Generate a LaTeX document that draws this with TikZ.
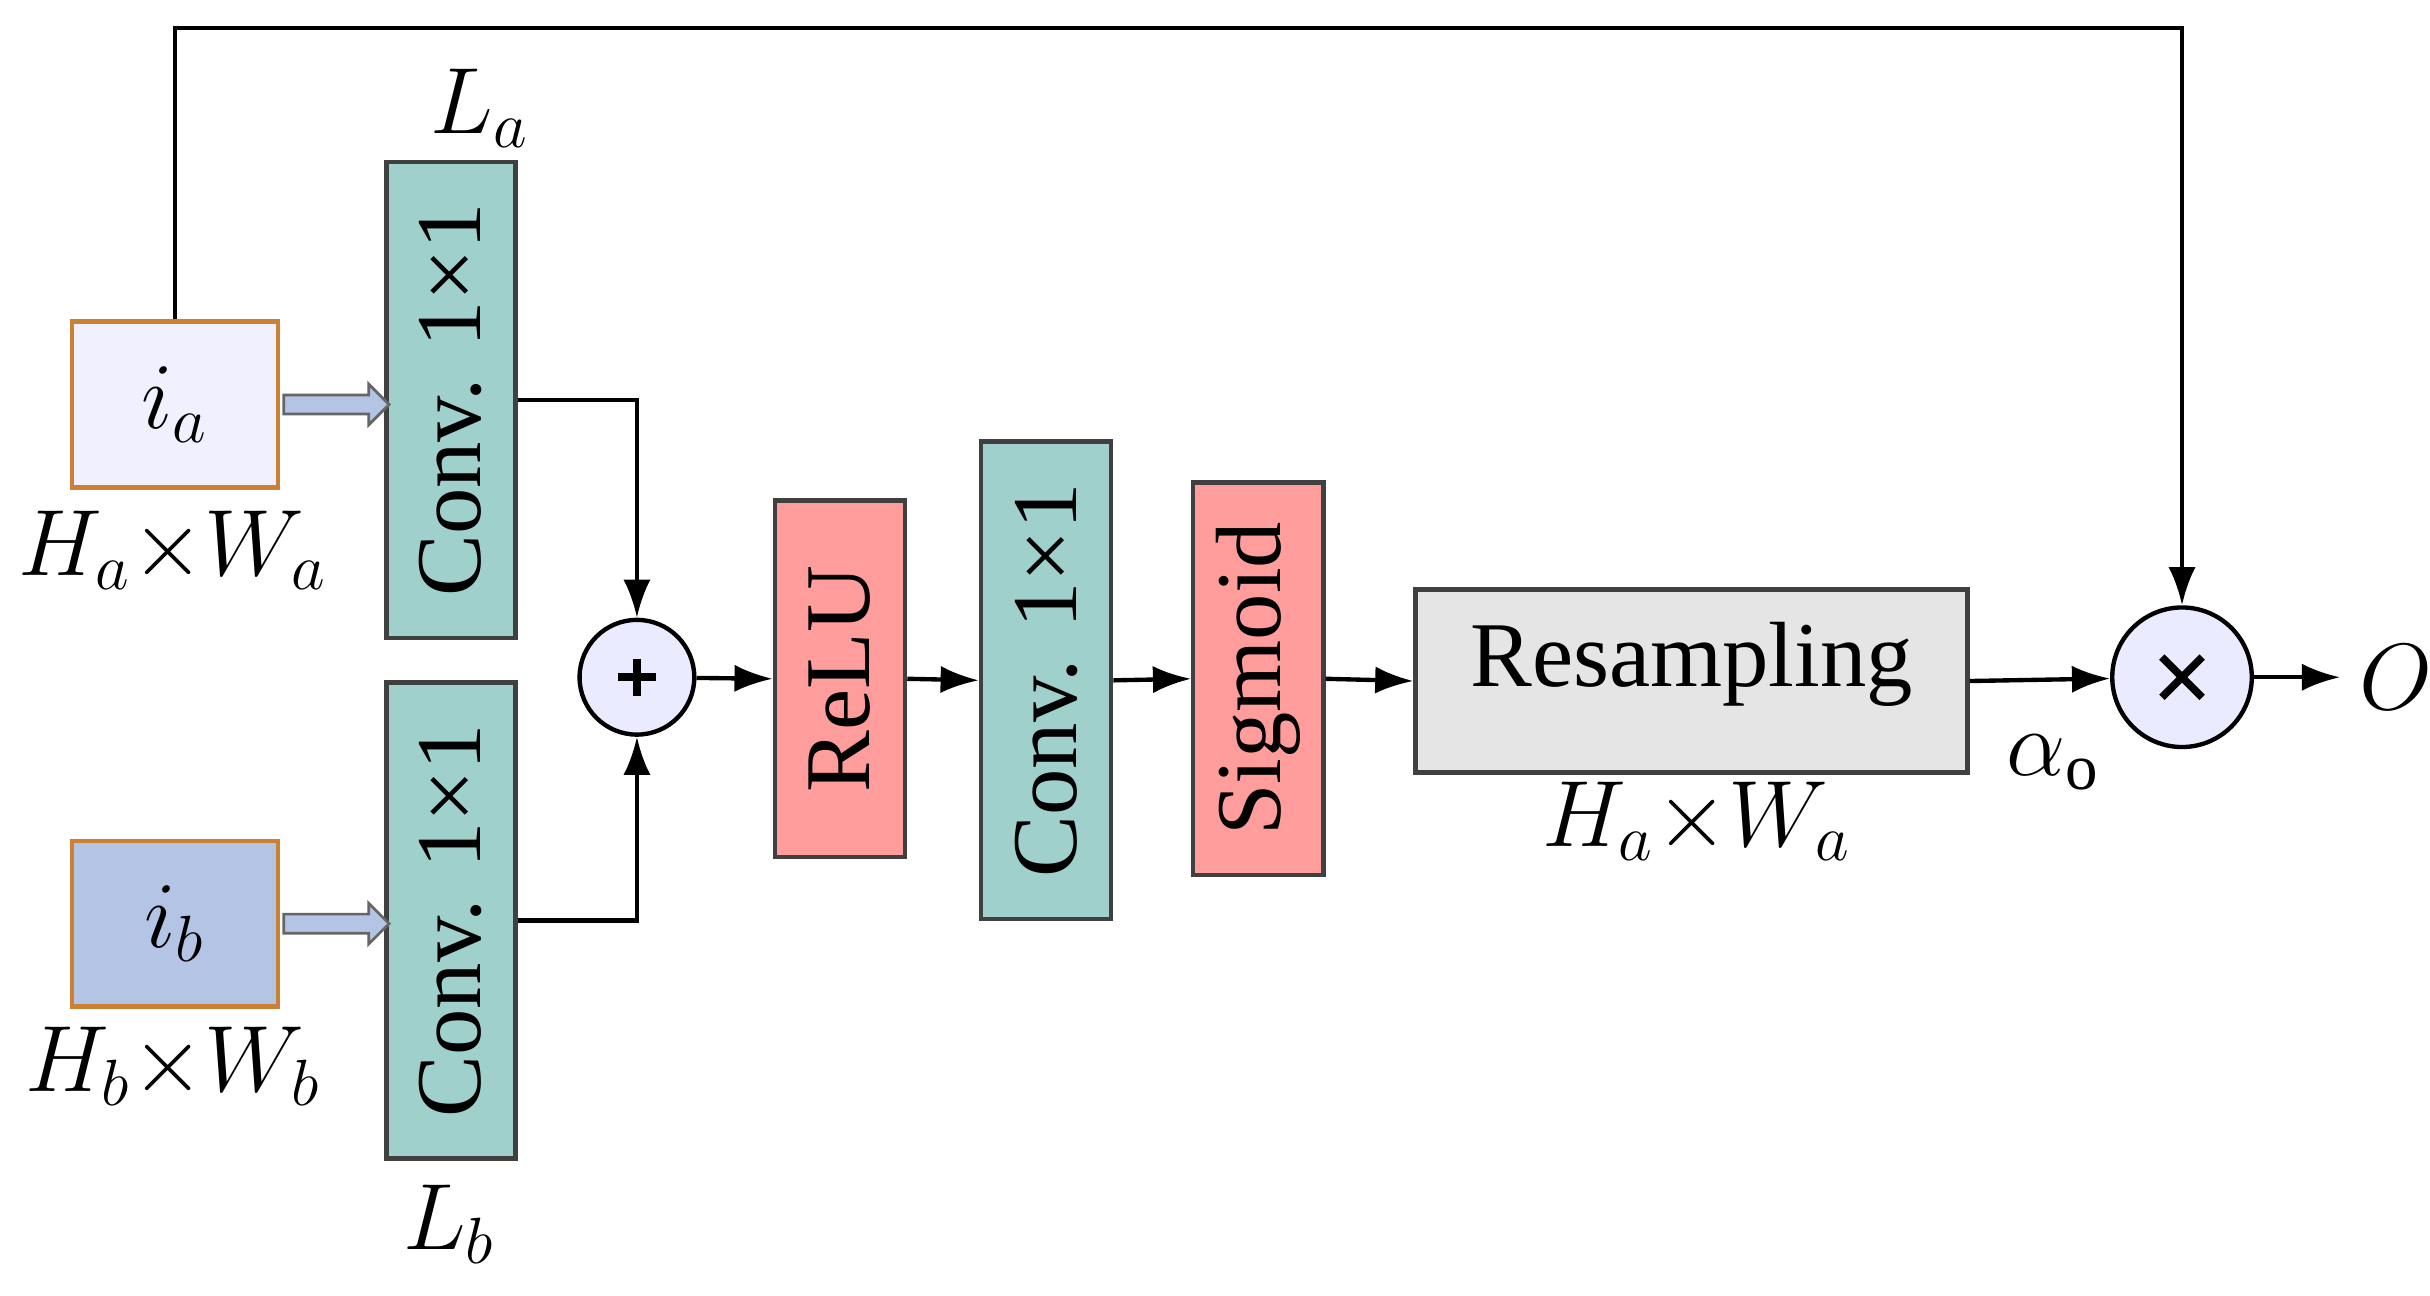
\documentclass[tikz,border=0pt]{standalone}
\usepackage{fontspec}
\setmainfont{Liberation Serif}
\usetikzlibrary{arrows.meta,shapes.arrows}
\begin{document}
\begin{tikzpicture}[x=0.01cm,y=-0.01cm,
 lab/.style={font=\fontsize{17}{17}\selectfont},
 conv/.style={draw=black!75,line width=0.8pt,fill=teal!40!white,fill=tealc},
 red/.style={draw=black!75,line width=0.8pt,fill=redc},
 inp/.style={draw=brown!80!orange,line width=0.8pt},
 rot/.style={rotate=90,font=\fontsize{17}{17}\selectfont},
 ar/.style={-{Latex[length=7pt,width=5pt]},line width=0.8pt},
 blk/.style={single arrow,draw=black!60,fill=bluec,minimum height=0.68cm,single arrow head extend=2pt,inner sep=1.5pt,line width=0.5pt}]
\definecolor{tealc}{HTML}{9FD0CC}
\definecolor{redc}{HTML}{FF9C9C}
\definecolor{bluec}{HTML}{B4C4E4}
\useasboundingbox (0,0) rectangle (1568,836);
% inputs
\node[inp,fill=blue!6,minimum width=1.33cm,minimum height=1.07cm,lab] (ia) at (113,261) {$i_a$};
\node[inp,fill=bluec,minimum width=1.33cm,minimum height=1.07cm,lab] (ib) at (113,596) {$i_b$};
\node[lab] (ha) at (112,355) {$H_a{\times}W_a$};
\node[lab] (hb) at (112,688) {$H_b{\times}W_b$};
% convs
\node[conv,minimum width=3.07cm,minimum height=0.83cm,rot] (ca) at (291,258) {Conv. 1×1};
\node[conv,minimum width=3.07cm,minimum height=0.83cm,rot] (cb) at (291,594) {Conv. 1×1};
\node[lab] (la) at (310,70) {$L_a$};
\node[lab] (lb) at (290,790) {$L_b$};
\node[blk] (aa) at (214,261) {};
\node[blk] (ab) at (214,596) {};
% plus
\node[circle,draw,fill=blue!8,minimum size=0.74cm,inner sep=0pt,line width=0.8pt] (plus) at (411,437) {};
\draw[line width=1.4pt] (plus.center)+(-12,0) -- +(12,0) (plus.center)+(0,-12) -- +(0,12);
\node[red,minimum width=2.3cm,minimum height=0.84cm,rot] (relu) at (542,438) {ReLU};
\node[conv,minimum width=3.08cm,minimum height=0.84cm,rot] (cm) at (675,439) {Conv. 1×1};
\node[red,minimum width=2.53cm,minimum height=0.84cm,rot] (sig) at (812,438) {Sigmoid};
\node[draw=black!75,line width=0.8pt,fill=black!10,minimum width=3.56cm,minimum height=1.18cm,lab,anchor=north west,text depth=0.35cm] (res) at (912,379) {Resampling};
\node[lab] (hr) at (1095,530) {$H_a{\times}W_a$};
\node[circle,draw,fill=blue!8,minimum size=0.9cm,inner sep=0pt,line width=0.8pt] (times) at (1408,437) {};
\draw[line width=1.4pt] (times.center)+(-13,-13) -- +(13,13) (times.center)+(-13,13) -- +(13,-13);
\node[lab] (al) at (1325,492) {$\alpha_{\mathrm{o}}$};
\node[lab,anchor=west] (o) at (1510,437) {$O$};
% connectors
\draw[ar] (ca.south) -| (plus.north);
\draw[ar] (cb.south) -| (plus.south);
\draw[ar] (plus) -- (relu.north);
\draw[ar] (relu.south) -- (cm.north);
\draw[ar] (cm.south) -- (sig.north);
\draw[ar] (sig.south) -- (res.west);
\draw[ar] (res.east) -- (times);
\draw[ar] (times) -- (o);
\draw[ar] (ia.north) -- (113,18) -| (times.north);
\end{tikzpicture}
\end{document}
